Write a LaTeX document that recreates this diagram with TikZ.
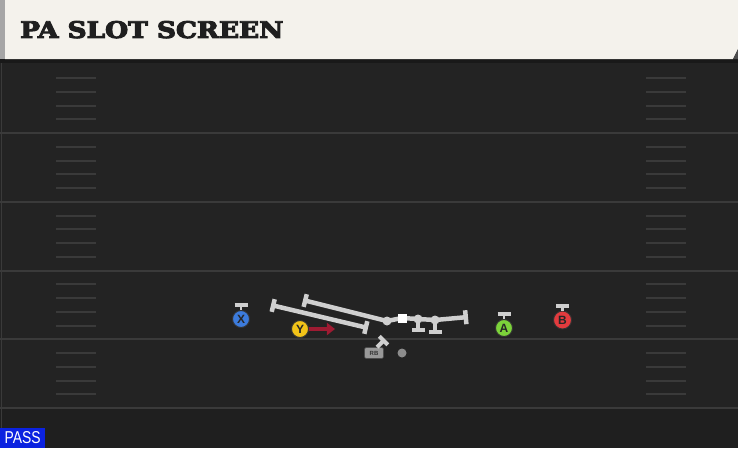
\documentclass[tikz,border=0pt]{standalone}
\usepackage{fontspec}
\usepackage{graphicx}
\usetikzlibrary{arrows.meta}
\newfontfamily\titlefont{DejaVu Serif Condensed}[BoldFeatures={FakeBold=4}]
\setsansfont{Liberation Sans}
\definecolor{field}{HTML}{232323}
\definecolor{fieldline}{HTML}{3A3A3A}
\definecolor{cream}{HTML}{F4F2EC}
\definecolor{blockgray}{HTML}{CFCFCF}
\definecolor{routered}{HTML}{9E1B32}
\definecolor{xblue}{HTML}{3C7BDC}
\definecolor{yyellow}{HTML}{F2C318}
\definecolor{agreen}{HTML}{7CD33A}
\definecolor{bred}{HTML}{E23B3E}
\definecolor{passblue}{HTML}{0B22E0}
\begin{document}
\begin{tikzpicture}[x=1pt,y=-1pt,
    player/.style={circle, draw=black!80, line width=0.9pt, minimum size=17pt, inner sep=0pt,
      font=\sffamily\bfseries\fontsize{12}{12}\selectfont, text=black!85},
    block/.style={draw=blockgray, line width=4.5pt},
    lineman/.style={circle, fill=blockgray, minimum size=9pt, inner sep=0pt}]
    \useasboundingbox (0,0) rectangle (738,448);
    % field
    \fill[field] (0,0) rectangle (738,448);
    \fill[black!88] (0,408) rectangle (738,448);
    \draw[fieldline, line width=1pt] (1.5,63) -- (1.5,448);
    \foreach \i in {0,...,4} {
      \draw[fieldline, line width=2pt] (0,133+68.75*\i) -- (738,133+68.75*\i);
      \foreach \k in {1,...,4} {
        \draw[fieldline, line width=2pt] (56,133+68.75*\i-13.75*\k) -- (96,133+68.75*\i-13.75*\k);
        \draw[fieldline, line width=2pt] (646,133+68.75*\i-13.75*\k) -- (686,133+68.75*\i-13.75*\k);
      }
    }
    % header
    \fill[black!90] (0,59) rectangle (738,63);
    \fill[cream] (5,0) -- (738,0) -- (738,49) -- (733,59) -- (5,59) -- cycle;
    \fill[black!35] (0,0) rectangle (5,59);
    \fill[black!70] (733,59) -- (738,59) -- (738,49) -- cycle;
    \node[anchor=south west, inner sep=0pt, text=black!88] (title) at (20,38.5)
      {\resizebox{263pt}{17pt}{\titlefont\bfseries PA SLOT SCREEN}};
    % line
    \draw[block, {Bar[width=13pt]}-{Bar[width=13pt]}] (271,305) -- (368,328);
    \coordinate (LG) at (387,321);
    \coordinate (C) at (402,318);
    \coordinate (RG) at (418,319);
    \coordinate (RT) at (435,320);
    \draw[block, {Bar[width=13pt]}-] (303,300) -- (LG);
    \draw[block, -{Bar[width=14pt]}] (LG) -- (C) -- (RG) -- (RT) -- (468,317);
    \draw[block, -{Bar[width=13pt]}] (RG) -- ++(0,13);
    \draw[block, -{Bar[width=13pt]}] (RT) -- ++(0,14);
    \node[lineman] (lg) at (LG) {};
    \node[lineman] (rg) at (RG) {};
    \node[lineman] (rt) at (RT) {};
    \node[fill=white, minimum size=9pt, inner sep=0pt] (center) at (C) {};
    % backs
    \node[lineman, fill=black!45] (QB) at (402,353) {};
    \node[rectangle, rounded corners=2pt, fill=black!40, draw=black!70, line width=0.6pt,
      minimum width=19pt, minimum height=11pt, inner sep=0pt,
      font=\sffamily\bfseries\fontsize{6}{6}\selectfont, text=black!80] (RB) at (374,353) {RB};
    \draw[block, line width=4pt, -{Bar[width=12pt]}] ([xshift=3pt]RB.north) -- ++(8,-8);
    % receivers
    \node[player, fill=xblue] (X) at (241,319) {X};
    \node[player, fill=yyellow] (Y) at (300,329) {Y};
    \node[player, fill=agreen] (A) at (504,328) {A};
    \node[player, fill=bred, minimum size=18pt] (B) at (562.5,320) {B};
    \foreach \p in {X,A,B} {
      \draw[blockgray, line width=2.5pt] (\p.north) -- ++(0,-5);
      \draw[blockgray, line width=4pt] ([yshift=5pt]\p.north) ++(-6.5,0) -- ++(13,0);
    }
    \draw[routered, line width=4.5pt, -{Triangle[length=8pt,width=12pt]}] (Y.east) -- ++(26,0);
    % play type
    \node[fill=passblue, anchor=south west, minimum width=45pt, minimum height=20pt,
      inner sep=0pt, text=white] (pass) at (0,448) {\resizebox{36pt}{12pt}{\sffamily PASS}};
\end{tikzpicture}
\end{document}
